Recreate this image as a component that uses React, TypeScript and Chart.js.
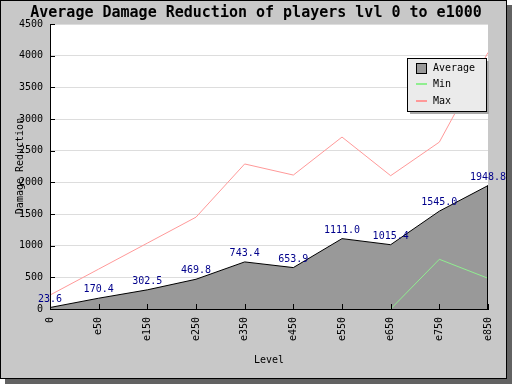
import React, { useEffect, useRef } from "react";
import { Chart, registerables } from "chart.js";

Chart.register(...registerables);

const categories = ["0", "e50", "e150", "e250", "e350", "e450", "e550", "e650", "e750", "e850"];
const averageValues = [23.6, 170.4, 302.5, 469.8, 743.4, 653.9, 1111.0, 1015.4, 1545.0, 1948.8];
const minValues: (number | null)[] = [null, null, null, null, null, null, null, 0, 785, 485];
const maxValues = [220, 630, 1040, 1450, 2290, 2115, 2715, 2105, 2635, 4050];
const averageLabels = ["23.6", "170.4", "302.5", "469.8", "743.4", "653.9", "1111.0", "1015.4", "1545.0", "1948.8"];
const yMin = 0;
const yMax = 4500;
const yStep = 500;
const titleText = "Average Damage Reduction of players lvl 0 to e1000";
const xTitle = "Level";
const yTitle = "Damage Reduction";
const legendNames = ["Average", "Min", "Max"];

const MONO = "'DejaVu Sans Mono', 'Liberation Mono', monospace";
const AVG_FILL = "#999999";
const MIN_COLOR = "#90ee90";
const MAX_COLOR = "#ff9999";
const LABEL_COLOR = "#00008b";

const decorPlugin = {
  id: "decor",
  beforeDraw(chart: any) {
    const ctx = chart.ctx;
    const { left, right, top, bottom } = chart.chartArea;
    ctx.save();
    ctx.fillStyle = "#ffffff";
    ctx.fillRect(0, 0, chart.width, chart.height);
    // shadow
    ctx.fillStyle = "#626262";
    ctx.fillRect(507, 5, 5, 379);
    ctx.fillRect(5, 379, 507, 5);
    // frame
    ctx.fillStyle = "#c8c8c8";
    ctx.fillRect(0, 0, 507, 379);
    ctx.strokeStyle = "#000000";
    ctx.lineWidth = 1;
    ctx.strokeRect(0.5, 0.5, 506, 378);
    // plot background
    ctx.fillStyle = "#ffffff";
    ctx.fillRect(left, top, right - left, bottom - top);
    ctx.restore();
  },
  afterDatasetsDraw(chart: any) {
    const ctx = chart.ctx;
    const { left, right, top, bottom } = chart.chartArea;
    const xs = chart.scales.x;
    const ys = chart.scales.y;
    ctx.save();
    // right edge of the area
    const lastX = xs.getPixelForValue(categories.length - 1);
    const lastY = ys.getPixelForValue(averageValues[averageValues.length - 1]);
    ctx.strokeStyle = "#000";
    ctx.lineWidth = 1;
    ctx.beginPath();
    ctx.moveTo(Math.round(lastX) - 0.5, lastY);
    ctx.lineTo(Math.round(lastX) - 0.5, bottom);
    ctx.stroke();
    // axes
    ctx.beginPath();
    ctx.moveTo(Math.round(left) + 0.5, top);
    ctx.lineTo(Math.round(left) + 0.5, Math.round(bottom) + 1);
    ctx.moveTo(left, Math.round(bottom) + 0.5);
    ctx.lineTo(right, Math.round(bottom) + 0.5);
    ctx.stroke();
    // tick marks
    ctx.beginPath();
    for (let v = yMin; v <= yMax; v += yStep) {
      const y = Math.round(ys.getPixelForValue(v)) + 0.5;
      ctx.moveTo(left, y);
      ctx.lineTo(left + 5, y);
    }
    for (let i = 0; i < categories.length; i++) {
      const x = Math.round(xs.getPixelForValue(i)) + 0.5;
      ctx.moveTo(x, bottom);
      ctx.lineTo(x, bottom - 5);
    }
    ctx.stroke();
    // data labels
    ctx.fillStyle = LABEL_COLOR;
    ctx.font = `10px ${MONO}`;
    ctx.textAlign = "center";
    ctx.textBaseline = "alphabetic";
    for (let i = 0; i < averageValues.length; i++) {
      const x = xs.getPixelForValue(i);
      const y = ys.getPixelForValue(averageValues[i]);
      ctx.fillText(averageLabels[i], x, y - 6);
    }
    ctx.restore();
  },
  afterDraw(chart: any) {
    const ctx = chart.ctx;
    const { left, right } = chart.chartArea;
    ctx.save();
    // title
    ctx.fillStyle = "#000";
    ctx.font = `bold 15px ${MONO}`;
    ctx.textAlign = "center";
    ctx.textBaseline = "alphabetic";
    ctx.fillText(titleText, 256, 17);
    // axis titles
    ctx.font = `10px ${MONO}`;
    ctx.textBaseline = "middle";
    ctx.fillText(xTitle, (left + right) / 2, 360);
    ctx.save();
    ctx.translate(20, 166);
    ctx.rotate(-Math.PI / 2);
    ctx.fillText(yTitle, 0, 0);
    ctx.restore();
    // legend
    const lx = 407, ly = 58, lw = 79, lh = 53;
    ctx.fillStyle = "#a8a8a8";
    ctx.fillRect(lx + 3, ly + 3, lw, lh);
    ctx.fillStyle = "#ebebeb";
    ctx.fillRect(lx, ly, lw, lh);
    ctx.strokeStyle = "#000";
    ctx.lineWidth = 1;
    ctx.strokeRect(lx + 0.5, ly + 0.5, lw, lh);
    const rows = [68, 84.5, 101];
    // Average swatch
    ctx.fillStyle = AVG_FILL;
    ctx.fillRect(416, 63, 10, 10);
    ctx.strokeRect(416.5, 63.5, 10, 10);
    // Min / Max lines
    ctx.lineWidth = 2;
    ctx.strokeStyle = MIN_COLOR;
    ctx.beginPath();
    ctx.moveTo(416, 84);
    ctx.lineTo(427, 84);
    ctx.stroke();
    ctx.strokeStyle = MAX_COLOR;
    ctx.beginPath();
    ctx.moveTo(416, 101);
    ctx.lineTo(427, 101);
    ctx.stroke();
    ctx.fillStyle = "#000";
    ctx.textAlign = "left";
    ctx.textBaseline = "middle";
    legendNames.forEach((n, i) => ctx.fillText(n, 433, rows[i]));
    ctx.restore();
  },
};

export default function App() {
  const ref = useRef<HTMLCanvasElement | null>(null);
  useEffect(() => {
    if (!ref.current) return;
    const chart = new Chart(ref.current, {
      type: "line",
      data: {
        labels: categories,
        datasets: [
          {
            label: legendNames[2],
            data: maxValues,
            borderColor: MAX_COLOR,
            borderWidth: 1,
            pointRadius: 0,
            fill: false,
            tension: 0,
          },
          {
            label: legendNames[1],
            data: minValues,
            borderColor: MIN_COLOR,
            borderWidth: 1,
            pointRadius: 0,
            fill: false,
            tension: 0,
            spanGaps: false,
          },
          {
            label: legendNames[0],
            data: averageValues,
            borderColor: "#000000",
            backgroundColor: AVG_FILL,
            borderWidth: 1,
            pointRadius: 0,
            fill: "origin",
            tension: 0,
          },
        ],
      },
      options: {
        animation: false,
        responsive: false,
        devicePixelRatio: 1,
        layout: { padding: { top: 24, right: 24, left: 0, bottom: 0 } },
        plugins: {
          legend: { display: false },
          tooltip: { enabled: false },
          title: { display: false },
        },
        scales: {
          x: {
            type: "category",
            offset: false,
            grid: { display: false, drawTicks: false },
            border: { display: true, color: "#000" },
            ticks: {
              autoSkip: false,
              minRotation: 90,
              maxRotation: 90,
              padding: 8,
              color: "#000",
              font: { family: MONO, size: 10 },
            },
            afterFit: (s: any) => {
              s.height = 75;
            },
          },
          y: {
            min: yMin,
            max: yMax,
            grid: { color: "#dddddd", drawTicks: false },
            border: { display: true, color: "#000" },
            ticks: {
              stepSize: yStep,
              padding: 7,
              color: "#000",
              font: { family: MONO, size: 10 },
              callback: (v: any) => String(v),
            },
            afterFit: (s: any) => {
              s.width = 50;
            },
          },
        },
      },
      plugins: [decorPlugin],
    } as any);
    return () => chart.destroy();
  }, []);
  return (
    <div style={{ position: "absolute", left: 0, top: 0, width: 512, height: 384 }}>
      <canvas ref={ref} width={512} height={384} style={{ display: "block" }} />
    </div>
  );
}
